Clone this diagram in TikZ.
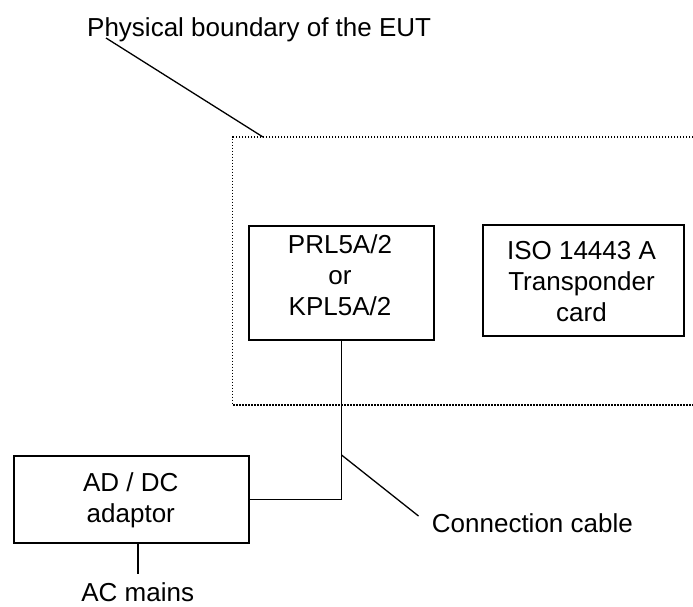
\documentclass[tikz,border=0pt]{standalone}
\usepackage{fontspec}
\setmainfont{Liberation Sans}
\begin{document}
\begin{tikzpicture}[x=1pt,y=-1pt,
  every node/.style={font=\fontsize{26}{31}\selectfont, inner sep=0pt},
  unit/.style={draw, line width=1.8pt, anchor=north west},
  unittext/.style={align=center, anchor=north},
  wire/.style={line width=1.7pt},
  leader/.style={line width=1.3pt},
  border/.style={dash pattern=on 1.5pt off 1.5pt, line width=1.5pt}]
\useasboundingbox (0,0) rectangle (693,606);

% physical boundary (open on the right)
\coordinate (bTR) at (693,137);
\coordinate (bTL) at (232.7,137);
\coordinate (bBL) at (232.7,405);
\coordinate (bBR) at (693,405);
\draw[border] (bTR) -- (bTL) -- (bBL) -- (bBR);

% units
\node[unit, minimum width=184.7pt, minimum height=114.3pt] (reader) at (248.3,225) {};
\node[unittext] (readerTxt) at (340,234.6) {PRL5A/2\\or\\KPL5A/2};
\node[unit, minimum width=201pt, minimum height=111pt] (card) at (482.3,223.7) {};
\node[unittext] (cardTxt) at (581.5,241.5) {ISO 14443 A\\Transponder\\card};
\node[unit, minimum width=235pt, minimum height=87.3pt] (adaptor) at (13.3,455) {};
\node[unittext] (adaptorTxt) at (130.8,472.5) {AD / DC\\adaptor};

% labels
\node[anchor=base west] (lblEUT) at (87,36.7) {Physical boundary of the EUT};
\node[anchor=base west] (lblCable) at (431.7,532.3) {Connection cable};
\node[anchor=base] (lblAC) at (137.7,601) {AC mains};

% cable from reader to adaptor
\coordinate (bend) at (reader.south |- adaptor.east);
\draw[wire] (reader.south) -- (bend) -- (adaptor.east);

% mains lead
\coordinate (mainsEnd) at (137.7,574.3);
\draw[wire] (adaptor.south -| mainsEnd) -- (mainsEnd);

% leaders
\coordinate (eutStart) at (106,38);
\coordinate (eutEnd) at (263,137);
\draw[leader] (eutStart) -- (eutEnd);
\coordinate (cableOn) at (reader.south |- 0,455);
\coordinate (cableEnd) at (418.5,516);
\draw[leader] (cableOn) -- (cableEnd);
\end{tikzpicture}
\end{document}
